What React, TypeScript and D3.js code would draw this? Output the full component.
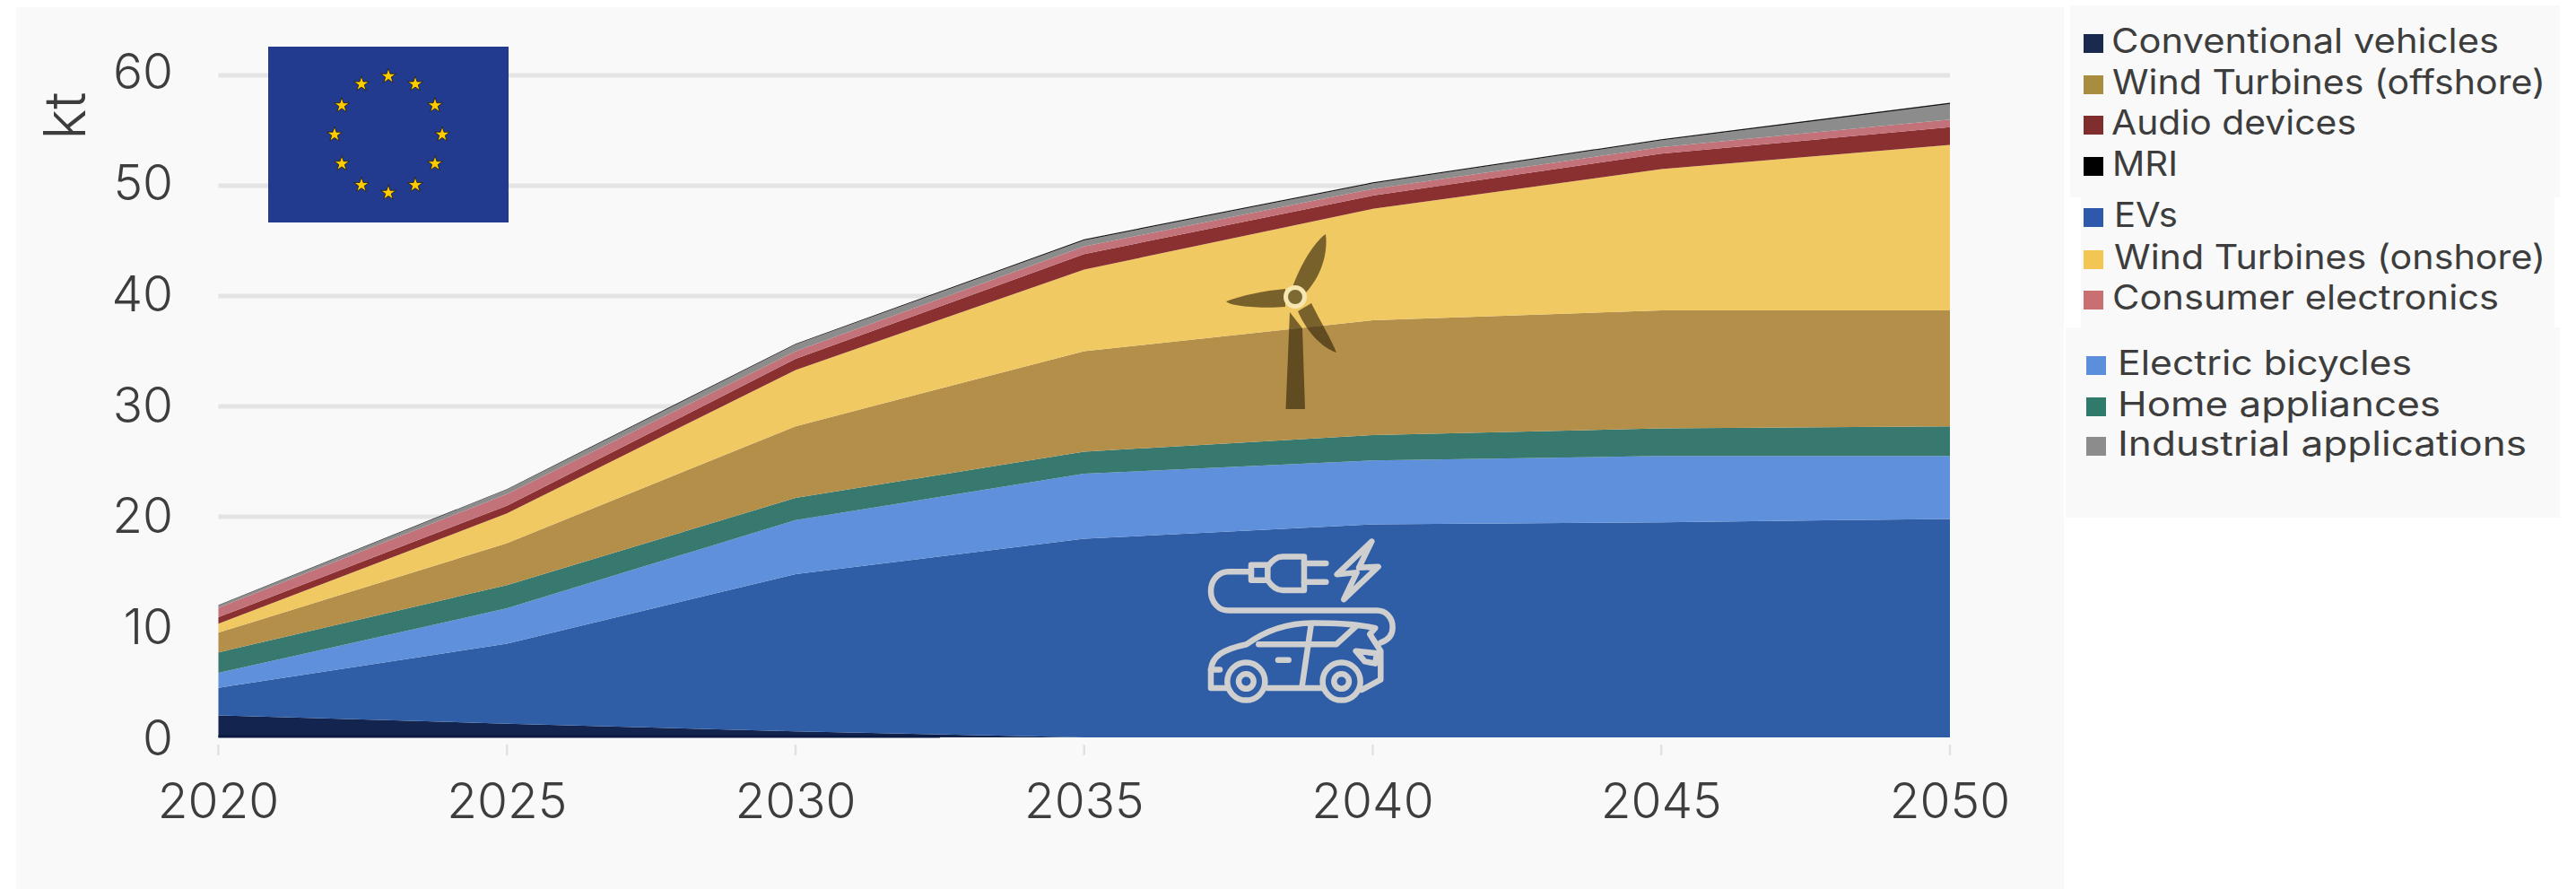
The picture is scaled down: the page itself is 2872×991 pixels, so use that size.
import React from "react";
import * as d3 from "d3";

// Stacked demand by end use in the EU, kt per year.
const years = [2020, 2025, 2030, 2035, 2040, 2045, 2050];
const conventionalVehicles = [2.0, 1.25, 0.55, 0, 0, 0, 0];
const evs = [2.5, 7.25, 14.25, 18.0, 19.3, 19.5, 19.8];
const electricBicycles = [1.35, 3.2, 4.9, 5.9, 5.8, 6.0, 5.7];
const homeAppliances = [1.85, 2.1, 2.0, 2.0, 2.3, 2.5, 2.7];
const windOffshore = [1.8, 3.8, 6.5, 9.1, 10.4, 10.7, 10.5];
const windOnshore = [0.8, 2.7, 5.1, 7.4, 10.1, 12.8, 15.0];
const audioDevices = [0.6, 0.7, 1.0, 1.4, 1.2, 1.4, 1.6];
const consumerElectronics = [0.85, 1.05, 0.7, 0.7, 0.6, 0.6, 0.7];
const industrialApplications = [0.2, 0.4, 0.6, 0.55, 0.5, 0.6, 1.4];
const mri = [0.05, 0.06, 0.08, 0.1, 0.1, 0.1, 0.12];
const yTicks = [0, 10, 20, 30, 40, 50, 60];

const seriesKeys = [
  "Conventional vehicles", "EVs", "Electric bicycles", "Home appliances",
  "Wind Turbines (offshore)", "Wind Turbines (onshore)", "Audio devices",
  "Consumer electronics", "Industrial applications", "MRI",
];
const seriesValues = [
  conventionalVehicles, evs, electricBicycles, homeAppliances, windOffshore,
  windOnshore, audioDevices, consumerElectronics, industrialApplications, mri,
];
const seriesColors: Record<string, string> = {
  "Conventional vehicles": "#13244f",
  EVs: "#2f5ea6",
  "Electric bicycles": "#5f90dc",
  "Home appliances": "#37796f",
  "Wind Turbines (offshore)": "#b38f4a",
  "Wind Turbines (onshore)": "#f1c963",
  "Audio devices": "#8a3030",
  "Consumer electronics": "#c4727a",
  "Industrial applications": "#8c8c8c",
  MRI: "#1a1a1a",
};

// Legend reading order, with the swatch colours the key uses.
const legendLabels = [
  "Conventional vehicles", "Wind Turbines (offshore)", "Audio devices", "MRI",
  "EVs", "Wind Turbines (onshore)", "Consumer electronics",
  "Electric bicycles", "Home appliances", "Industrial applications",
];
const legendSwatchColors = [
  "#1a2a4e", "#a88c3f", "#7f2d2d", "#000000", "#2d58ab",
  "#f3c552", "#c96f72", "#5b8fdc", "#2f7a6b", "#8c8c8c",
];
const legendBaselines = [59, 105, 150, 196, 253, 300, 345, 418, 464, 508];
const legendTextStart = [2354, 2355, 2354, 2355, 2357, 2357, 2355, 2361, 2361, 2361];
const legendTextWidth = [432, 483, 273, 73, 71, 481, 431, 328, 360, 456];
const legendSwatchStart = [2323, 2323, 2323, 2323, 2323, 2323, 2323, 2326, 2326, 2326];

const TEXT_FONT = "Inter, 'Noto Sans', sans-serif";
const TEXT_COLOR = "#3d3d3d";

const table = years.map((year, i) => {
  const row: Record<string, number> = { year };
  seriesKeys.forEach((k, s) => (row[k] = seriesValues[s][i]));
  return row;
});

const x = d3.scaleLinear().domain([2020, 2050]).range([243.5, 2174]);
const y = d3.scaleLinear().domain([0, 60]).range([822, 84]);
// Tick labels sit slightly above their gridlines towards the top of the axis.
const yLabel = d3.scaleLinear().domain([0, 60]).range([822, 79]);

const stacked = d3.stack<Record<string, number>>().keys(seriesKeys)(table);
const areaPath = d3
  .area<d3.SeriesPoint<Record<string, number>>>()
  .x((d) => x(d.data.year))
  .y0((d) => y(d[0]))
  .y1((d) => y(d[1]))
  .curve(d3.curveLinear);

const starPath = d3.symbol().type(d3.symbolStar).size(88)() as string;
const starAngles = d3.range(12).map((i) => (i * Math.PI) / 6);

function EuFlag() {
  return (
    <g>
      <rect x={299} y={52} width={268} height={196} fill="#233b8e" />
      {starAngles.map((a, i) => (
        <path
          key={i}
          d={starPath}
          transform={`translate(${433 + 60 * Math.sin(a)},${150 - 65 * Math.cos(a)})`}
          fill="#ffcc00"
          stroke="#1a1a1a"
          strokeWidth={0.8}
        />
      ))}
    </g>
  );
}

function WindTurbine() {
  return (
    <g>
      <g fill="#2f2208" opacity={0.62}>
        <path d="M1438 348 L1452 366 L1455 456 L1433.5 456 Z" />
        <path d="M1441 320 C1450 295 1465 270 1478 261 C1481 285 1471 310 1456 326 Z" />
        <path d="M1433 322 C1410 324 1385 329 1367 336 C1372 342 1410 344 1433 342 Z" />
        <path d="M1462 338 C1472 358 1484 378 1490 393 C1475 388 1458 372 1447 347 Z" />
      </g>
      <circle cx={1444} cy={331} r={10.5} fill="#7d6a33" stroke="#f6e6b2" strokeWidth={5} />
    </g>
  );
}

// The EV pictogram is laid out on a 3 x 2.66 grid and scaled into place.
function ElectricCar() {
  const line = {
    fill: "none",
    stroke: "#cfcfcf",
    strokeWidth: 6.5,
    strokeLinejoin: "round" as const,
    strokeLinecap: "round" as const,
    vectorEffect: "non-scaling-stroke" as const,
  };
  return (
    <g transform="translate(1250,220) scale(0.3333,0.376)">
      <path {...line} d="M868 1320 C900 1310 908 1290 908 1275 C908 1245 885 1225 855 1225 L360 1225 C325 1225 300 1200 300 1167 C300 1135 325 1110 360 1110 L435 1110" />
      <path {...line} d="M435 1090 L490 1090 L490 1135 L435 1135 Z" />
      <path {...line} d="M490 1095 C505 1075 520 1065 540 1065 L612 1065 L612 1165 L540 1165 C520 1165 505 1155 490 1135" />
      <path {...line} d="M612 1085 L685 1085 M612 1140 L685 1140" />
      <path {...line} d="M838 1020 L722 1118 L788 1112 L745 1192 L860 1095 L795 1098 Z" />
      <path {...line} d="M355 1455 L300 1455 L300 1400 C305 1360 340 1340 420 1325 C490 1280 560 1262 640 1262 C720 1262 790 1265 850 1277 L832 1295 L868 1345 L868 1430 L805 1460" />
      <path {...line} d="M490 1455 L672 1455" />
      <path {...line} d="M300 1400 L330 1400" />
      <path {...line} d="M460 1325 L720 1325 L785 1272" />
      <path {...line} d="M635 1268 L605 1450" />
      <path {...line} d="M525 1372 L560 1372" />
      <path {...line} d="M785 1345 L855 1352 L850 1382 L815 1376 Z" />
      <ellipse {...line} cx={418} cy={1435} rx={63} ry={56} />
      <ellipse {...line} cx={418} cy={1435} rx={25} ry={22} />
      <ellipse {...line} cx={737} cy={1435} rx={63} ry={56} />
      <ellipse {...line} cx={737} cy={1435} rx={25} ry={22} />
    </g>
  );
}

export default function App() {
  return (
    <svg
      width={2872}
      height={991}
      viewBox="0 0 2872 991"
      style={{ position: "absolute", left: 0, top: 0, display: "block", background: "#ffffff" }}
    >
      <rect x={18} y={8} width={2283} height={983} fill="#f9f9f9" />
      <rect x={2308} y={6} width={546} height={214} fill="#f9f9f9" />
      <rect x={2320} y={220} width={528} height={145} fill="#f9f9f9" />
      <rect x={2303} y={365} width={551} height={212} fill="#f9f9f9" />

      {yTicks.filter((t) => t > 0).map((t) => (
        <line key={t} x1={x(2020)} x2={x(2050)} y1={y(t)} y2={y(t)} stroke="#e4e4e4" strokeWidth={5} />
      ))}
      {years.map((yr) => (
        <line key={yr} x1={x(yr)} x2={x(yr)} y1={y(0) + 8} y2={y(0) + 20} stroke="#e2e2e2" strokeWidth={2.5} />
      ))}

      {stacked.map((s) => (
        <path key={s.key} d={areaPath(s) as string} fill={seriesColors[s.key]} />
      ))}
      <line x1={x(2020)} x2={x(2032.5)} y1={y(0) - 1} y2={y(0) - 1} stroke="#0b1a42" strokeWidth={3} />

      {yTicks.map((t) => (
        <text key={t} x={193} y={yLabel(t)} dominantBaseline="central" textAnchor="end"
          fontFamily={TEXT_FONT} fontWeight={300} fontSize={55} fill={TEXT_COLOR}>{t}</text>
      ))}
      {years.map((yr) => (
        <text key={yr} x={x(yr)} y={892} dominantBaseline="central" textAnchor="middle"
          fontFamily={TEXT_FONT} fontWeight={300} fontSize={55} fill={TEXT_COLOR}>{yr}</text>
      ))}
      <text transform="translate(71,129) rotate(-90)" dominantBaseline="central" textAnchor="middle"
        fontFamily={TEXT_FONT} fontWeight={300} fontSize={64} fill={TEXT_COLOR}>kt</text>

      <EuFlag />
      <WindTurbine />
      <ElectricCar />

      {legendLabels.map((label, i) => (
        <g key={label}>
          <rect x={legendSwatchStart[i]} y={legendBaselines[i] - 21} width={22} height={21} fill={legendSwatchColors[i]} />
          <text x={legendTextStart[i]} y={legendBaselines[i]} fontFamily={TEXT_FONT} fontSize={38}
            fill={TEXT_COLOR} textLength={legendTextWidth[i]} lengthAdjust="spacingAndGlyphs">{label}</text>
        </g>
      ))}
    </svg>
  );
}
